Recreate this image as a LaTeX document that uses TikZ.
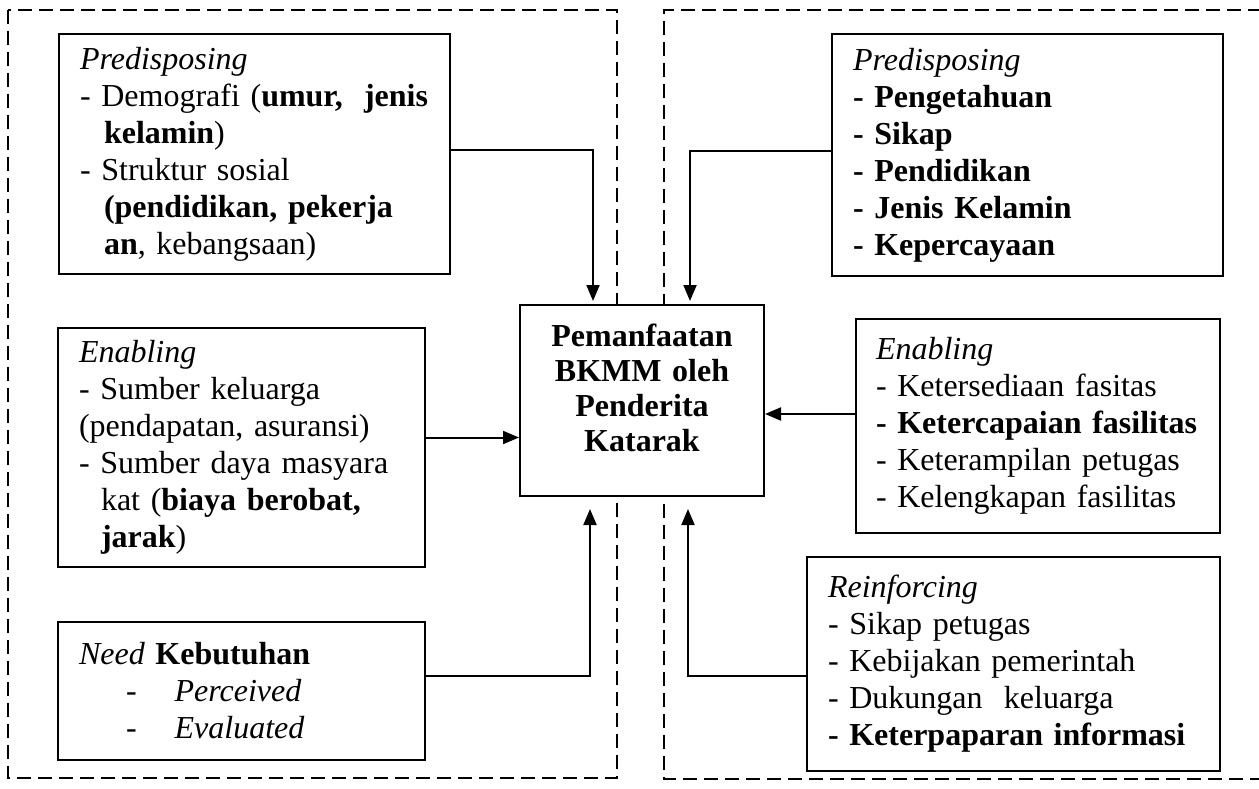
\documentclass[tikz,border=0pt]{standalone}
\usepackage{fontspec}
\setmainfont{Liberation Serif}
\usetikzlibrary{arrows.meta}
\begin{document}
\begin{tikzpicture}[x=1pt,y=-1pt,
  frame/.style={line width=2pt, dash pattern=on 14pt off 7pt},
  box/.style={draw, line width=2pt, fill=white, inner xsep=21pt, inner ysep=0pt,
    align=left, anchor=north west, font=\fontsize{32}{37}\selectfont},
  cbox/.style={draw, line width=2pt, fill=white, inner xsep=12pt, inner ysep=0pt,
    align=center, anchor=north west, font=\fontsize{32}{35}\selectfont\bfseries},
  arr/.style={line width=2pt, -{Triangle[length=16pt,width=13pt]}}]
\useasboundingbox (0,0) rectangle (1259,789);
% dashed frames
\draw[frame] (8,10) rectangle (617,778);
\draw[frame] (1262,10) -- (664,10) -- (664,779) -- (1262,779);
% centre
\node[cbox, text width=220pt, minimum height=191pt] (C) at (519,304)
  {Pemanfaatan\\BKMM oleh\\Penderita\\Katarak\\[-9pt]\mbox{}};
% left boxes
\node[box, text width=349pt, minimum height=240pt] (L1) at (58,33)
  {\textit{Predisposing}\\
   - Demografi (\textbf{umur,~ jenis}\\
   \hspace*{24pt}\textbf{kelamin})\\
   - Struktur sosial\\
   \hspace*{24pt}\textbf{(pendidikan, pekerja}\\
   \hspace*{24pt}\textbf{an}, kebangsaan)};
\node[box, text width=325pt, minimum height=239pt] (L2) at (57,327)
  {\textit{Enabling}\\
   - Sumber keluarga\\
   (pendapatan, asuransi)\\
   - Sumber daya masyara\\
   \hspace*{22pt}kat (\textbf{biaya berobat,}\\
   \hspace*{22pt}\textbf{jarak})};
\node[box, text width=325pt, minimum height=138pt] (L3) at (57,621)
  {\textit{Need} \textbf{Kebutuhan}\\
   \hspace*{47pt}-\hspace*{38pt}\textit{Perceived}\\
   \hspace*{47pt}-\hspace*{38pt}\textit{Evaluated}};
% right boxes
\node[box, text width=349pt, minimum height=242pt] (R1) at (831,33)
  {\textit{Predisposing}\\
   \textbf{- Pengetahuan}\\
   \textbf{- Sikap}\\
   \textbf{- Pendidikan}\\
   \textbf{- Jenis Kelamin}\\
   \textbf{- Kepercayaan}};
\node[box, inner xsep=20pt, text width=324pt, minimum height=214pt] (R2) at (855,318)
  {\textit{Enabling}\\
   - Ketersediaan fasitas\\
   \textbf{- Ketercapaian fasilitas}\\
   - Keterampilan petugas\\
   - Kelengkapan fasilitas};
\node[box, text width=371pt, minimum height=214pt] (R3) at (806,556)
  {\textit{Reinforcing}\\
   - Sikap petugas\\
   - Kebijakan pemerintah\\
   - Dukungan~ keluarga\\
   \textbf{- Keterpaparan informasi}};
% connectors
\draw[arr, shorten >=3pt] ([yshift=4pt]L1.east) -| ([xshift=-49pt]C.north);
\draw[arr] ([yshift=10pt]L2.east) -- ([yshift=10pt]L2.east -| C.west);
\draw[arr, shorten >=12pt] ([yshift=15pt]L3.east) -| ([xshift=-52pt]C.south);
\draw[arr, shorten >=3pt] ([yshift=4pt]R1.west) -| ([xshift=48pt]C.north);
\draw[arr] ([yshift=12pt]R2.west) -- ([yshift=12pt]R2.west -| C.east);
\draw[arr, shorten >=12pt] ([yshift=-12pt]R3.west) -| ([xshift=46pt]C.south);
\end{tikzpicture}
\end{document}
